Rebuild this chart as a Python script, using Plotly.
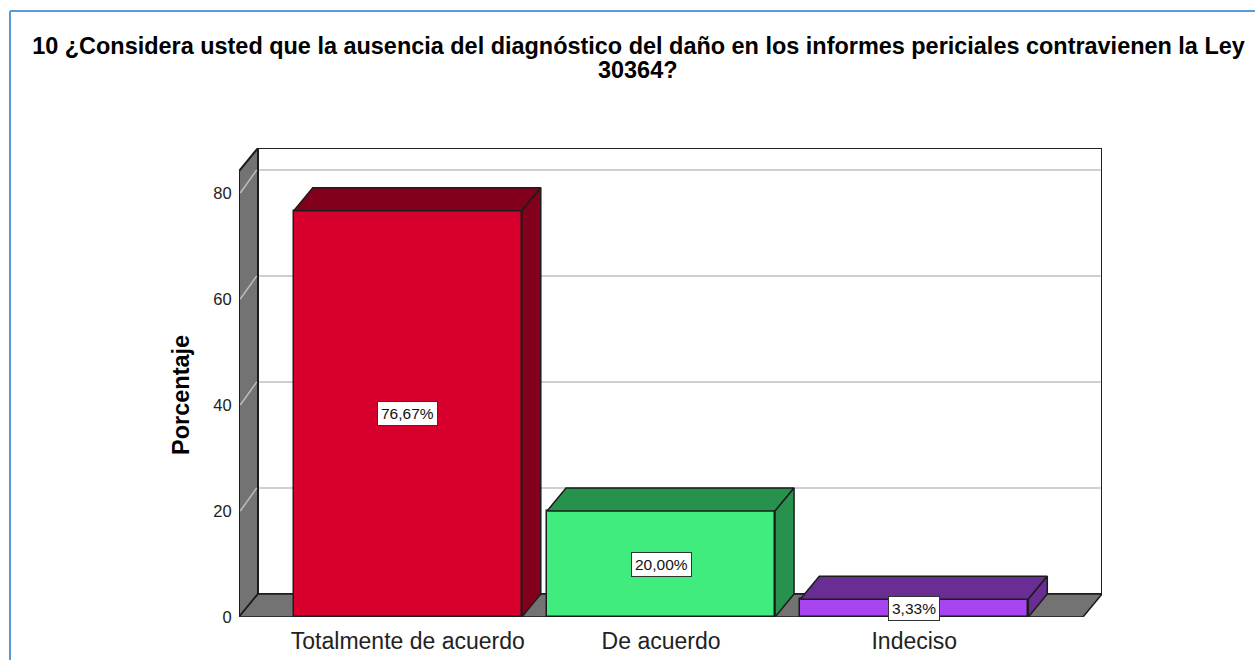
import plotly.graph_objects as go

title_lines = ["10 ¿Considera usted que la ausencia del diagnóstico del daño en los informes periciales contravienen la Ley", "30364?"]
axis_title = "Porcentaje"
categories = ["Totalmente de acuerdo", "De acuerdo", "Indeciso"]
values = [76.67, 20.00, 3.33]
labels = ["76,67%", "20,00%", "3,33%"]
front_colors = ["#D7002D", "#41EC7E", "#A845F0"]
depth_colors = ["#82001C", "#27914E", "#6A2D93"]
y_ticks = [0, 20, 40, 60, 80]

W, H = 1255, 660
L, R, T, B = 239, 1102, 148, 617
PX_X = 253.25
PX_Y = 5.3
C0 = 407.8
x_min = -(C0 - L) / PX_X
x_max = (R - C0) / PX_X
y_max = (B - T) / PX_Y
dx = 19 / PX_X
dy = 23 / PX_Y
bw = 228 / PX_X
wall_top = y_max - dy
front_right = x_max - dx
xs = list(range(len(categories)))
EDGE = "#1c1c1c"
FONT = "Liberation Sans"


def poly(pts, fill, line=EDGE, width=1.5):
    path = "M " + " L ".join(f"{a},{b}" for a, b in pts) + " Z"
    return dict(type="path", xref="x", yref="y", path=path, fillcolor=fill,
                line=dict(color=line, width=width), layer="below")


def px_x(p):
    return (p - L) / (R - L)


def px_y(p):
    return (B - p) / (B - T)


shapes = [
    dict(type="line", xref="paper", yref="paper", x0=px_x(10), x1=px_x(W + 5), y0=px_y(11), y1=px_y(11),
         line=dict(color="#5B9BD5", width=2)),
    dict(type="line", xref="paper", yref="paper", x0=px_x(10), x1=px_x(10), y0=px_y(11), y1=px_y(H + 5),
         line=dict(color="#5B9BD5", width=2)),
    poly([(x_min + dx, dy), (x_max, dy), (x_max, y_max), (x_min + dx, y_max)], "#FFFFFF", line="#222222", width=2),
    poly([(x_min, 0), (x_min + dx, dy), (x_min + dx, y_max), (x_min, wall_top)], "#737373", width=2),
    poly([(x_min, 0), (x_min + dx, dy), (x_max, dy), (front_right, 0)], "#737373", width=1.5),
]
for t in y_ticks:
    if t == 0:
        continue
    shapes.append(dict(type="line", xref="x", yref="y", x0=x_min + dx + 0.005, x1=x_max - 0.005,
                       y0=t + dy, y1=t + dy, line=dict(color="#CFCFCF", width=2), layer="below"))
    shapes.append(dict(type="line", xref="x", yref="y", x0=x_min + 0.005, x1=x_min + dx - 0.005,
                       y0=t, y1=t + dy, line=dict(color="#BDBDBD", width=1.5), layer="below"))

fig = go.Figure()
fig.add_trace(go.Bar(x=xs, y=values, width=bw, cliponaxis=False, showlegend=False,
                     marker=dict(color=front_colors, line=dict(color=EDGE, width=1.5))))
for x, v, c in zip(xs, values, depth_colors):
    x0, x1 = x - bw / 2, x + bw / 2
    fig.add_trace(go.Scatter(x=[x0, x0 + dx, x1 + dx, x1, x0], y=[v, v + dy, v + dy, v, v],
                             mode="lines", fill="toself", fillcolor=c, showlegend=False,
                             line=dict(color=EDGE, width=1.5)))
    fig.add_trace(go.Scatter(x=[x1, x1 + dx, x1 + dx, x1, x1], y=[v, v + dy, dy, 0, v],
                             mode="lines", fill="toself", fillcolor=c, showlegend=False,
                             line=dict(color=EDGE, width=1.5)))

annotations = [dict(x=x, y=v / 2, text=t, showarrow=False,
                    font=dict(family=FONT, size=15.5, color="#111111"),
                    bgcolor="#FFFFFF", bordercolor="#333333", borderwidth=1, borderpad=3)
               for x, v, t in zip(xs, values, labels)]
annotations.append(dict(xref="paper", yref="paper", x=px_x(638), y=px_y(70), text=title_lines[1], showarrow=False,
                        xanchor="center", yanchor="middle",
                        font=dict(family=FONT, size=23.45, color="#000000", weight="bold")))
annotations.append(dict(xref="paper", yref="paper", x=px_x(181), y=px_y(395), text=axis_title, showarrow=False,
                        textangle=-90, xanchor="center", yanchor="middle",
                        font=dict(family=FONT, size=23.5, color="#000000", weight="bold")))

fig.update_layout(
    width=W, height=H, margin=dict(l=L, r=W - R, t=T, b=H - B, autoexpand=False),
    paper_bgcolor="#FFFFFF", plot_bgcolor="rgba(0,0,0,0)", bargap=0, showlegend=False,
    title=dict(text=title_lines[0], x=638.5 / W, xanchor="center", y=1 - 46 / H, yanchor="middle",
               font=dict(family=FONT, size=23.45, color="#000000", weight="bold")),
    shapes=shapes, annotations=annotations,
    xaxis=dict(range=[x_min, x_max], tickvals=xs, ticktext=categories, showgrid=False,
               zeroline=False, showline=False, ticks="outside", ticklen=3, tickcolor="rgba(0,0,0,0)",
               tickfont=dict(family=FONT, size=23, color="#222222")),
    yaxis=dict(range=[0, y_max], tickvals=y_ticks, showgrid=False, zeroline=False, showline=False,
               ticks="outside", ticklen=3, tickcolor="rgba(0,0,0,0)",
               tickfont=dict(family=FONT, size=16.5, color="#222222")),
)
fig.write_html("out.html", config={"displayModeBar": False}, post_script="document.body.style.margin='0';")
